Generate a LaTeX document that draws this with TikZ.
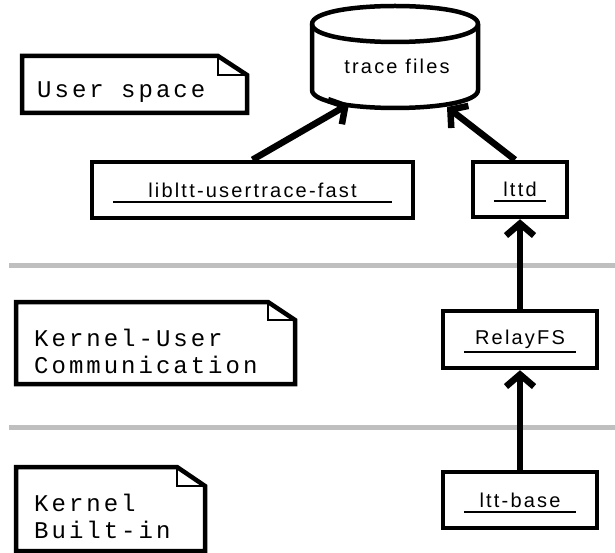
\documentclass[tikz,border=0pt]{standalone}
\usepackage{fontspec}
\usetikzlibrary{arrows.meta}
\newfontfamily\boxfont[LetterSpace=11]{Liberation Sans}
\newfontfamily\notefont[LetterSpace=12.5]{Liberation Mono}
\tikzset{
  box/.style={draw, line width=4.5pt, rectangle, inner sep=0pt, font=\boxfont\fontsize{20}{22}\selectfont},
  uline/.style={line width=2pt},
  arr/.style={line width=6.5pt, -{Straight Barb[length=12pt,width=28pt]}, line join=miter},
  sep/.style={line width=5pt, color=black!25},
  noteshape/.style={draw, line width=4.5pt, line join=miter, fill=white},
  fold/.style={line width=2pt},
  notetext/.style={anchor=west, inner sep=0pt, align=left, font=\notefont\fontsize{24}{27}\selectfont},
}
\begin{document}
\begin{tikzpicture}[x=1pt,y=-1pt]
\useasboundingbox (0,0) rectangle (615,553);
% separators
\draw[sep] (9,265) coordinate (s1a) -- (615,265) coordinate (s1b);
\draw[sep] (9,427) coordinate (s2a) -- (615,427) coordinate (s2b);
% notes
\draw[noteshape] (22,56) -- (218,56) -- (247,75) -- (247,113) -- (22,113) -- cycle;
\draw[fold] (218,56) -- (218,75) -- (247,75);
\node[notetext] (n1) at (37,92) {User space};
\draw[noteshape] (16,302) -- (268,302) -- (295,320) -- (295,384) -- (16,384) -- cycle;
\draw[fold] (268,302) -- (268,320) -- (295,320);
\node[notetext] (n2) at (34,351.5) {Kernel-User\\Communication};
\draw[noteshape] (16,467) -- (177,467) -- (205,486) -- (205,551) -- (16,551) -- cycle;
\draw[fold] (177,467) -- (177,486) -- (205,486);
\node[notetext] (n3) at (34,516) {Kernel\\Built-in};
% cylinder
\draw[line width=4.5pt, line join=round] (312,24) .. controls (312,0) and (478,0) .. (478,24)
  -- (478,90) .. controls (478,114) and (312,114) .. (312,90) -- cycle;
\draw[line width=4.5pt] (312,24) .. controls (312,48) and (478,48) .. (478,24);
\node[inner sep=0pt, font=\boxfont\fontsize{20}{22}\selectfont] (files) at (397,66) {trace files};
\coordinate (tl) at (349,104);
\coordinate (tr) at (447,107);
% boxes
\node[box, minimum width=321pt, minimum height=56pt] (lib) at (252.5,190) {libltt-usertrace-fast};
\node[box, minimum width=94pt, minimum height=55pt] (lttd) at (520,189.5) {lttd};
\node[box, minimum width=154pt, minimum height=57pt] (relay) at (520,339.5) {RelayFS};
\node[box, minimum width=154pt, minimum height=56pt] (base) at (520,500) {ltt-base};
\foreach \n in {lib,lttd,relay,base}{
  \draw[uline] ([shift={(23,-18)}]\n.south west) -- ([shift={(-23,-18)}]\n.south east);
}
% arrows
\draw[arr] (lib.north) -- (tl);
\draw[arr] ([xshift=-5pt]lttd.north) -- (tr);
\draw[arr] (relay) -- (lttd);
\draw[arr] (base) -- (relay);
\end{tikzpicture}
\end{document}
